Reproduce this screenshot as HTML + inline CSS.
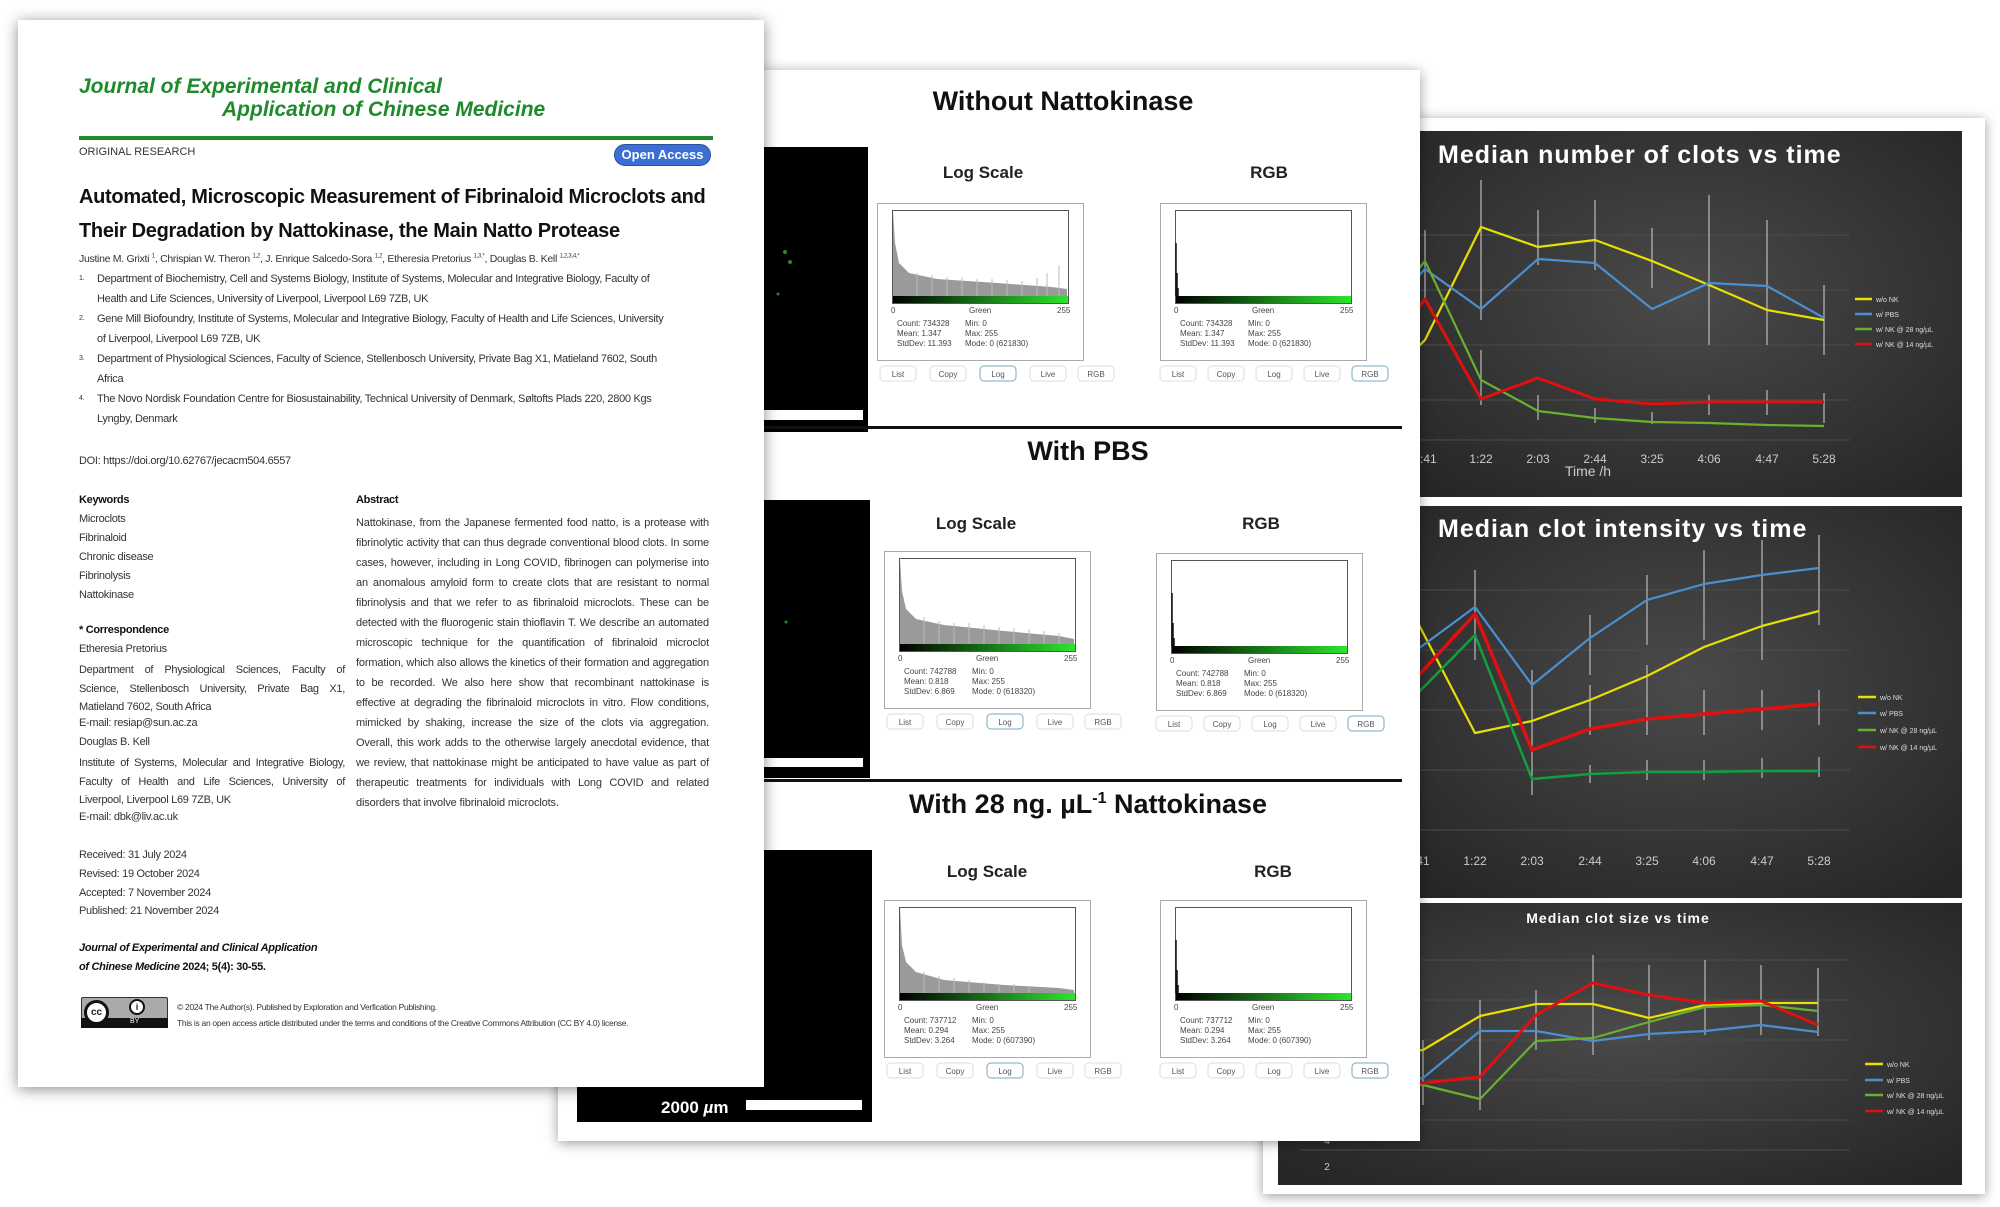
<!DOCTYPE html>
<html><head><meta charset="utf-8"><style>
*{margin:0;padding:0;box-sizing:border-box}
body{width:2000px;height:1207px;background:#fff;position:relative;overflow:hidden;font-family:"Liberation Sans",sans-serif;color:#222}
.a{position:absolute;white-space:nowrap}
#paper{position:absolute;left:18px;top:20px;width:746px;height:1067px;background:#fff;box-shadow:0 2px 14px rgba(0,0,0,.45);z-index:3}
#mid{position:absolute;left:558px;top:70px;width:862px;height:1071px;background:#fff;box-shadow:0 2px 12px rgba(0,0,0,.4);z-index:2}
.sm{font-size:11px;letter-spacing:-.3px;color:#333}
.j{text-align:justify;white-space:normal}
.ttl{font-weight:bold;font-size:27px;color:#111;transform:translateX(-50%)}
.lb{font-weight:bold;font-size:17px;transform:translateX(-50%)}
</style></head><body>

<svg style="position:absolute;left:0;top:0;z-index:1" width="2000" height="1207" viewBox="0 0 2000 1207">
<defs>
<radialGradient id="dg" cx="50%" cy="45%" r="70%"><stop offset="0" stop-color="#4a4a4a"/><stop offset="1" stop-color="#262626"/></radialGradient>
</defs>
<rect x="1263" y="118" width="722" height="1076" fill="#fff" style="filter:drop-shadow(0 2px 6px rgba(0,0,0,.4))"/>
<rect x="1263" y="118" width="722" height="1076" fill="#fff"/>
<rect x="1410" y="131" width="552" height="366" fill="url(#dg)"/>
<rect x="1410" y="506" width="552" height="392" fill="url(#dg)"/>
<rect x="1278" y="903" width="684" height="282" fill="url(#dg)"/>
<g stroke="#4c4c4c" stroke-width="1">
<line x1="1410" y1="235" x2="1850" y2="235"/><line x1="1410" y1="290" x2="1850" y2="290"/><line x1="1410" y1="345" x2="1850" y2="345"/><line x1="1410" y1="400" x2="1850" y2="400"/><line x1="1410" y1="440" x2="1850" y2="440"/>
<line x1="1410" y1="590" x2="1850" y2="590"/><line x1="1410" y1="650" x2="1850" y2="650"/><line x1="1410" y1="710" x2="1850" y2="710"/><line x1="1410" y1="770" x2="1850" y2="770"/><line x1="1410" y1="830" x2="1850" y2="830"/>
<line x1="1300" y1="960" x2="1850" y2="960"/><line x1="1300" y1="1000" x2="1850" y2="1000"/><line x1="1300" y1="1040" x2="1850" y2="1040"/><line x1="1300" y1="1080" x2="1850" y2="1080"/><line x1="1300" y1="1120" x2="1850" y2="1120"/><line x1="1300" y1="1150" x2="1850" y2="1150"/>
</g>
<g font-family="Liberation Sans,sans-serif" fill="#fff">
<text x="1438" y="163" font-size="25" font-weight="bold" letter-spacing="1">Median number of clots vs time</text>
<text x="1438" y="537" font-size="25" font-weight="bold" letter-spacing="1">Median clot intensity vs time</text>
<text x="1618" y="923" font-size="14" font-weight="bold" text-anchor="middle" letter-spacing="1">Median clot size vs time</text>
</g>
<g font-family="Liberation Sans,sans-serif" fill="#ccc" font-size="12" text-anchor="middle">
<text x="1425" y="463">0:41</text><text x="1481" y="463">1:22</text><text x="1538" y="463">2:03</text><text x="1595" y="463">2:44</text><text x="1652" y="463">3:25</text><text x="1709" y="463">4:06</text><text x="1767" y="463">4:47</text><text x="1824" y="463">5:28</text>
<text x="1588" y="476" font-size="14">Time  /h</text>
<text x="1418" y="865">0:41</text><text x="1475" y="865">1:22</text><text x="1532" y="865">2:03</text><text x="1590" y="865">2:44</text><text x="1647" y="865">3:25</text><text x="1704" y="865">4:06</text><text x="1762" y="865">4:47</text><text x="1819" y="865">5:28</text>
<text x="1327" y="1144" font-size="10">4</text><text x="1327" y="1170" font-size="10">2</text>
</g>
<g stroke="#bbb" stroke-width="1.2">
<path d="M1425 230v70M1481 180v140M1538 210v55M1595 200v70M1652 228v60M1709 195v150M1767 220v125M1824 285v70M1481 350v55M1538 395v25M1595 408v15M1652 412v12M1709 395v20M1767 390v25M1824 393v30"/>
<path d="M1475 570v90M1532 670v100M1590 615v60M1647 575v70M1704 550v90M1762 540v120M1819 535v90M1532 745v50M1590 685v50M1647 665v70M1704 690v45M1762 690v40M1819 690v35M1590 765v18M1647 760v20M1704 760v20M1762 758v20M1819 757v20"/>
<path d="M1423 1040v65M1480 1000v110M1536 990v60M1593 955v100M1649 965v75M1705 960v75M1761 965v70M1818 968v68"/>
</g>
<g fill="none" stroke-width="2.2" stroke-linejoin="round">
<polyline stroke="#e8e000" points="1410,355 1425,340 1481,227 1538,247 1595,240 1652,261 1709,285 1767,310 1824,320"/>
<polyline stroke="#4a90d0" points="1410,285 1425,269 1481,309 1538,259 1595,263 1652,309 1709,283 1767,286 1824,318"/>
<polyline stroke="#6ab030" points="1410,280 1425,261 1481,380 1538,411 1595,418 1652,422 1709,423 1767,425 1824,426"/>
<polyline stroke="#e01010" stroke-width="3" points="1410,320 1425,299 1481,399 1538,378 1595,399 1652,404 1709,402 1767,402 1824,402"/>
<polyline stroke="#e8e000" points="1410,612 1418,623 1475,733 1532,721 1590,700 1647,676 1704,647 1762,626 1819,611"/>
<polyline stroke="#4a90d0" points="1410,652 1418,649 1475,607 1532,685 1590,638 1647,600 1704,584 1762,575 1819,568"/>
<polyline stroke="#e01010" stroke-width="3.5" points="1410,680 1418,676 1475,614 1532,750 1590,729 1647,719 1704,714 1762,709 1819,704"/>
<polyline stroke="#10a040" stroke-width="2.5" points="1410,698 1418,693 1475,635 1532,779 1590,774 1647,772 1704,772 1762,771 1819,771"/>
<polyline stroke="#e8e000" points="1300,1062 1423,1050 1480,1016 1536,1004 1593,1004 1649,1018 1705,1005 1761,1003 1818,1003"/>
<polyline stroke="#4a90d0" points="1300,1090 1423,1078 1480,1031 1536,1031 1593,1041 1649,1034 1705,1031 1761,1025 1818,1032"/>
<polyline stroke="#6ab030" points="1300,1078 1423,1085 1480,1099 1536,1041 1593,1038 1649,1022 1705,1007 1761,1005 1818,1011"/>
<polyline stroke="#e01010" stroke-width="3" points="1300,1088 1423,1083 1480,1077 1536,1015 1593,983 1649,995 1705,1003 1761,1001 1818,1025"/>
</g>
<g font-family="Liberation Sans,sans-serif" font-size="7" fill="#ddd" stroke-width="2.5">
<line x1="1855" y1="299" x2="1872" y2="299" stroke="#e8e000"/><text x="1876" y="302">w/o NK</text>
<line x1="1855" y1="314" x2="1872" y2="314" stroke="#4a90d0"/><text x="1876" y="317">w/ PBS</text>
<line x1="1855" y1="329" x2="1872" y2="329" stroke="#6ab030"/><text x="1876" y="332">w/ NK @ 28 ng/µL</text>
<line x1="1855" y1="344" x2="1872" y2="344" stroke="#e01010"/><text x="1876" y="347">w/ NK @ 14 ng/µL</text>
<line x1="1858" y1="697" x2="1876" y2="697" stroke="#e8e000"/><text x="1880" y="700">w/o NK</text>
<line x1="1858" y1="713" x2="1876" y2="713" stroke="#4a90d0"/><text x="1880" y="716">w/ PBS</text>
<line x1="1858" y1="730" x2="1876" y2="730" stroke="#6ab030"/><text x="1880" y="733">w/ NK @ 28 ng/µL</text>
<line x1="1858" y1="747" x2="1876" y2="747" stroke="#e01010"/><text x="1880" y="750">w/ NK @ 14 ng/µL</text>
<line x1="1865" y1="1064" x2="1883" y2="1064" stroke="#e8e000"/><text x="1887" y="1067">w/o NK</text>
<line x1="1865" y1="1080" x2="1883" y2="1080" stroke="#4a90d0"/><text x="1887" y="1083">w/ PBS</text>
<line x1="1865" y1="1095" x2="1883" y2="1095" stroke="#6ab030"/><text x="1887" y="1098">w/ NK @ 28 ng/µL</text>
<line x1="1865" y1="1111" x2="1883" y2="1111" stroke="#e01010"/><text x="1887" y="1114">w/ NK @ 14 ng/µL</text>
</g>
</svg>

<div id="mid">
<div class="a" style="left:140px;top:77px;width:170px;height:285px;background:#000"></div>
<div class="a" style="left:150px;top:340px;width:155px;height:10px;background:#fff"></div>
<div class="a" style="left:140px;top:430px;width:172px;height:278px;background:#000"></div>
<div class="a" style="left:150px;top:688px;width:155px;height:9px;background:#fff"></div>
<div class="a" style="left:19px;top:780px;width:295px;height:272px;background:#000"></div>
<div class="a" style="left:188px;top:1030px;width:116px;height:10px;background:#fff"></div>
<div class="a" style="left:103px;top:1028px;color:#fff;font-weight:bold;font-size:17px">2000 <i>µ</i>m</div>
<div class="a" style="left:-10px;top:356px;width:854px;height:3px;background:#111"></div>
<div class="a" style="left:-10px;top:709px;width:854px;height:3px;background:#111"></div>
<div class="a ttl" style="left:505px;top:16px">Without Nattokinase</div>
<div class="a ttl" style="left:530px;top:366px">With PBS</div>
<div class="a ttl" style="left:530px;top:719px">With 28 ng. µL<sup style="font-size:16px">-1</sup> Nattokinase</div>
<div class="a lb" style="left:425px;top:93px">Log Scale</div>
<div class="a lb" style="left:711px;top:93px">RGB</div>
<div class="a lb" style="left:418px;top:444px">Log Scale</div>
<div class="a lb" style="left:703px;top:444px">RGB</div>
<div class="a lb" style="left:429px;top:792px">Log Scale</div>
<div class="a lb" style="left:715px;top:792px">RGB</div>
</div>

<svg style="position:absolute;left:0;top:0;z-index:2" width="2000" height="1207" viewBox="0 0 2000 1207" font-family="Liberation Sans,sans-serif">
<defs>
<linearGradient id="gb"><stop offset="0" stop-color="#000"/><stop offset="1" stop-color="#2ee52e"/></linearGradient>
</defs>
<g fill="#3a3" opacity=".8"><circle cx="785" cy="252" r="2"/><circle cx="790" cy="262" r="2"/><circle cx="778" cy="294" r="1.5"/><circle cx="786" cy="622" r="1.5"/></g>
<g transform="translate(877,203)">
<rect x="0.5" y="0.5" width="206" height="157" fill="#fff" stroke="#aaa"/>
<rect x="15.5" y="7.5" width="176" height="93" fill="#fff" stroke="#555"/>
<path d="M16 8 L18 40 L22 60 L32 70 L60 76 L120 80 L175 84 L190 86 L190 93 L16 93Z" fill="#9a9a9a"/>
<path d="M40 93V70M55 93V72M70 93V74M85 93V74M100 93V76M115 93V76M130 93V77M145 93V78M160 93V75M170 93V70M182 93V62" stroke="#bbb"/>
<rect x="16" y="93" width="175" height="7" fill="url(#gb)"/>
<g font-size="8" fill="#444"><text x="14" y="110">0</text><text x="92" y="110">Green</text><text x="180" y="110">255</text>
<text x="20" y="123">Count: 734328</text><text x="20" y="133">Mean: 1.347</text><text x="20" y="143">StdDev: 11.393</text>
<text x="88" y="123">Min: 0</text><text x="88" y="133">Max: 255</text><text x="88" y="143">Mode: 0 (621830)</text></g>
<g fill="#fff" stroke="#ddd" font-size="8"><rect x="3" y="163" width="36" height="15" rx="4"/><rect x="53" y="163" width="36" height="15" rx="4"/><rect x="103" y="163" width="36" height="15" rx="4" stroke="#7ab"/><rect x="153" y="163" width="36" height="15" rx="4"/><rect x="201" y="163" width="36" height="15" rx="4"/></g>
<g font-size="8" fill="#555" text-anchor="middle"><text x="21" y="174">List</text><text x="71" y="174">Copy</text><text x="121" y="174">Log</text><text x="171" y="174">Live</text><text x="219" y="174">RGB</text></g>
</g>
<g transform="translate(1160,203)">
<rect x="0.5" y="0.5" width="206" height="157" fill="#fff" stroke="#aaa"/>
<rect x="15.5" y="7.5" width="176" height="93" fill="#fff" stroke="#555"/>
<path d="M16 40V93M17 70V93M18 85V93" stroke="#111" stroke-width="1.5"/>
<rect x="16" y="93" width="175" height="7" fill="url(#gb)"/>
<g font-size="8" fill="#444"><text x="14" y="110">0</text><text x="92" y="110">Green</text><text x="180" y="110">255</text>
<text x="20" y="123">Count: 734328</text><text x="20" y="133">Mean: 1.347</text><text x="20" y="143">StdDev: 11.393</text>
<text x="88" y="123">Min: 0</text><text x="88" y="133">Max: 255</text><text x="88" y="143">Mode: 0 (621830)</text></g>
<g fill="#fff" stroke="#ddd"><rect x="0" y="163" width="36" height="15" rx="4"/><rect x="48" y="163" width="36" height="15" rx="4"/><rect x="96" y="163" width="36" height="15" rx="4"/><rect x="144" y="163" width="36" height="15" rx="4"/><rect x="192" y="163" width="36" height="15" rx="4" stroke="#7ab"/></g>
<g font-size="8" fill="#555" text-anchor="middle"><text x="18" y="174">List</text><text x="66" y="174">Copy</text><text x="114" y="174">Log</text><text x="162" y="174">Live</text><text x="210" y="174">RGB</text></g>
</g>
<g transform="translate(884,551)">
<rect x="0.5" y="0.5" width="206" height="157" fill="#fff" stroke="#aaa"/>
<rect x="15.5" y="7.5" width="176" height="93" fill="#fff" stroke="#555"/>
<path d="M16 8 L18 40 L22 58 L32 68 L60 74 L120 80 L175 85 L190 88 L190 93 L16 93Z" fill="#9a9a9a"/>
<path d="M40 93V66M55 93V70M70 93V72M85 93V72M100 93V74M115 93V76M130 93V77M145 93V78M160 93V80M175 93V82" stroke="#bbb"/>
<rect x="16" y="93" width="175" height="7" fill="url(#gb)"/>
<g font-size="8" fill="#444"><text x="14" y="110">0</text><text x="92" y="110">Green</text><text x="180" y="110">255</text>
<text x="20" y="123">Count: 742788</text><text x="20" y="133">Mean: 0.818</text><text x="20" y="143">StdDev: 6.869</text>
<text x="88" y="123">Min: 0</text><text x="88" y="133">Max: 255</text><text x="88" y="143">Mode: 0 (618320)</text></g>
<g fill="#fff" stroke="#ddd"><rect x="3" y="163" width="36" height="15" rx="4"/><rect x="53" y="163" width="36" height="15" rx="4"/><rect x="103" y="163" width="36" height="15" rx="4" stroke="#7ab"/><rect x="153" y="163" width="36" height="15" rx="4"/><rect x="201" y="163" width="36" height="15" rx="4"/></g>
<g font-size="8" fill="#555" text-anchor="middle"><text x="21" y="174">List</text><text x="71" y="174">Copy</text><text x="121" y="174">Log</text><text x="171" y="174">Live</text><text x="219" y="174">RGB</text></g>
</g>
<g transform="translate(1156,553)">
<rect x="0.5" y="0.5" width="206" height="157" fill="#fff" stroke="#aaa"/>
<rect x="15.5" y="7.5" width="176" height="93" fill="#fff" stroke="#555"/>
<path d="M16 40V93M17 70V93M18 85V93" stroke="#111" stroke-width="1.5"/>
<rect x="16" y="93" width="175" height="7" fill="url(#gb)"/>
<g font-size="8" fill="#444"><text x="14" y="110">0</text><text x="92" y="110">Green</text><text x="180" y="110">255</text>
<text x="20" y="123">Count: 742788</text><text x="20" y="133">Mean: 0.818</text><text x="20" y="143">StdDev: 6.869</text>
<text x="88" y="123">Min: 0</text><text x="88" y="133">Max: 255</text><text x="88" y="143">Mode: 0 (618320)</text></g>
<g fill="#fff" stroke="#ddd"><rect x="0" y="163" width="36" height="15" rx="4"/><rect x="48" y="163" width="36" height="15" rx="4"/><rect x="96" y="163" width="36" height="15" rx="4"/><rect x="144" y="163" width="36" height="15" rx="4"/><rect x="192" y="163" width="36" height="15" rx="4" stroke="#7ab"/></g>
<g font-size="8" fill="#555" text-anchor="middle"><text x="18" y="174">List</text><text x="66" y="174">Copy</text><text x="114" y="174">Log</text><text x="162" y="174">Live</text><text x="210" y="174">RGB</text></g>
</g>
<g transform="translate(884,900)">
<rect x="0.5" y="0.5" width="206" height="157" fill="#fff" stroke="#aaa"/>
<rect x="15.5" y="7.5" width="176" height="93" fill="#fff" stroke="#555"/>
<path d="M16 8 L18 45 L22 62 L32 72 L60 80 L120 85 L175 88 L190 90 L190 93 L16 93Z" fill="#9a9a9a"/>
<path d="M40 93V72M55 93V76M70 93V78M85 93V80M100 93V82M115 93V84M130 93V84M145 93V86" stroke="#bbb"/>
<rect x="16" y="93" width="175" height="7" fill="url(#gb)"/>
<g font-size="8" fill="#444"><text x="14" y="110">0</text><text x="92" y="110">Green</text><text x="180" y="110">255</text>
<text x="20" y="123">Count: 737712</text><text x="20" y="133">Mean: 0.294</text><text x="20" y="143">StdDev: 3.264</text>
<text x="88" y="123">Min: 0</text><text x="88" y="133">Max: 255</text><text x="88" y="143">Mode: 0 (607390)</text></g>
<g fill="#fff" stroke="#ddd"><rect x="3" y="163" width="36" height="15" rx="4"/><rect x="53" y="163" width="36" height="15" rx="4"/><rect x="103" y="163" width="36" height="15" rx="4" stroke="#7ab"/><rect x="153" y="163" width="36" height="15" rx="4"/><rect x="201" y="163" width="36" height="15" rx="4"/></g>
<g font-size="8" fill="#555" text-anchor="middle"><text x="21" y="174">List</text><text x="71" y="174">Copy</text><text x="121" y="174">Log</text><text x="171" y="174">Live</text><text x="219" y="174">RGB</text></g>
</g>
<g transform="translate(1160,900)">
<rect x="0.5" y="0.5" width="206" height="157" fill="#fff" stroke="#aaa"/>
<rect x="15.5" y="7.5" width="176" height="93" fill="#fff" stroke="#555"/>
<path d="M16 40V93M17 70V93M18 85V93" stroke="#111" stroke-width="1.5"/>
<rect x="16" y="93" width="175" height="7" fill="url(#gb)"/>
<g font-size="8" fill="#444"><text x="14" y="110">0</text><text x="92" y="110">Green</text><text x="180" y="110">255</text>
<text x="20" y="123">Count: 737712</text><text x="20" y="133">Mean: 0.294</text><text x="20" y="143">StdDev: 3.264</text>
<text x="88" y="123">Min: 0</text><text x="88" y="133">Max: 255</text><text x="88" y="143">Mode: 0 (607390)</text></g>
<g fill="#fff" stroke="#ddd"><rect x="0" y="163" width="36" height="15" rx="4"/><rect x="48" y="163" width="36" height="15" rx="4"/><rect x="96" y="163" width="36" height="15" rx="4"/><rect x="144" y="163" width="36" height="15" rx="4"/><rect x="192" y="163" width="36" height="15" rx="4" stroke="#7ab"/></g>
<g font-size="8" fill="#555" text-anchor="middle"><text x="18" y="174">List</text><text x="66" y="174">Copy</text><text x="114" y="174">Log</text><text x="162" y="174">Live</text><text x="210" y="174">RGB</text></g>
</g>
</svg>

<div id="paper">
<div class="a" style="left:61px;top:55px;color:#1e8a2a;font-weight:bold;font-style:italic;font-size:21px">Journal of Experimental and Clinical</div>
<div class="a" style="left:204px;top:78px;color:#1e8a2a;font-weight:bold;font-style:italic;font-size:21px">Application of Chinese Medicine</div>
<div class="a" style="left:61px;top:116px;width:634px;height:4px;background:#1e8a2a"></div>
<div class="a" style="left:61px;top:126px;font-size:11px;color:#333">ORIGINAL RESEARCH</div>
<div class="a" style="left:596px;top:124px;width:97px;height:22px;border-radius:11px;background:#3b6fd4;border:1px solid #2a50a0;color:#fff;font-weight:bold;font-size:13px;text-align:center;line-height:20px">Open Access</div>
<div class="a" style="left:61px;top:166px;font-weight:bold;font-size:20px;color:#111;letter-spacing:-.3px">Automated, Microscopic Measurement of Fibrinaloid Microclots and</div>
<div class="a" style="left:61px;top:200px;font-weight:bold;font-size:20px;color:#111;letter-spacing:-.3px">Their Degradation by Nattokinase, the Main Natto Protease</div>
<div class="a sm" style="left:61px;top:233px;font-size:10.5px">Justine M. Grixti <sup style="font-size:6px">1</sup>, Chrispian W. Theron <sup style="font-size:6px">1,2</sup>, J. Enrique Salcedo-Sora <sup style="font-size:6px">1,2</sup>, Etheresia Pretorius <sup style="font-size:6px">1,3,*</sup>, Douglas B. Kell <sup style="font-size:6px">1,2,3,4,*</sup></div>
<div class="a sm" style="left:61px;top:255px;font-size:7px">1.</div>
<div class="a sm" style="left:79px;top:253px">Department of Biochemistry, Cell and Systems Biology, Institute of Systems, Molecular and Integrative Biology, Faculty of</div>
<div class="a sm" style="left:79px;top:273px">Health and Life Sciences, University of Liverpool, Liverpool L69 7ZB, UK</div>
<div class="a sm" style="left:61px;top:295px;font-size:7px">2.</div>
<div class="a sm" style="left:79px;top:293px">Gene Mill Biofoundry, Institute of Systems, Molecular and Integrative Biology, Faculty of Health and Life Sciences, University</div>
<div class="a sm" style="left:79px;top:313px">of Liverpool, Liverpool L69 7ZB, UK</div>
<div class="a sm" style="left:61px;top:335px;font-size:7px">3.</div>
<div class="a sm" style="left:79px;top:333px">Department of Physiological Sciences, Faculty of Science, Stellenbosch University, Private Bag X1, Matieland 7602, South</div>
<div class="a sm" style="left:79px;top:353px">Africa</div>
<div class="a sm" style="left:61px;top:375px;font-size:7px">4.</div>
<div class="a sm" style="left:79px;top:373px">The Novo Nordisk Foundation Centre for Biosustainability, Technical University of Denmark, Søltofts Plads 220, 2800 Kgs</div>
<div class="a sm" style="left:79px;top:393px">Lyngby, Denmark</div>
<div class="a sm" style="left:61px;top:435px">DOI: https://doi.org/10.62767/jecacm504.6557</div>
<div class="a sm" style="left:61px;top:474px;font-weight:bold;color:#111">Keywords</div>
<div class="a sm" style="left:61px;top:493px">Microclots</div>
<div class="a sm" style="left:61px;top:512px">Fibrinaloid</div>
<div class="a sm" style="left:61px;top:531px">Chronic disease</div>
<div class="a sm" style="left:61px;top:550px">Fibrinolysis</div>
<div class="a sm" style="left:61px;top:569px">Nattokinase</div>
<div class="a sm" style="left:61px;top:604px;font-weight:bold;color:#111">* Correspondence</div>
<div class="a sm" style="left:61px;top:623px">Etheresia Pretorius</div>
<div class="a sm j" style="left:61px;top:641px;width:266px;line-height:18.7px">Department of Physiological Sciences, Faculty of Science, Stellenbosch University, Private Bag X1, Matieland 7602, South Africa</div>
<div class="a sm" style="left:61px;top:697px">E-mail: resiap@sun.ac.za</div>
<div class="a sm" style="left:61px;top:716px">Douglas B. Kell</div>
<div class="a sm j" style="left:61px;top:734px;width:266px;line-height:18.7px">Institute of Systems, Molecular and Integrative Biology, Faculty of Health and Life Sciences, University of Liverpool, Liverpool L69 7ZB, UK</div>
<div class="a sm" style="left:61px;top:791px">E-mail: dbk@liv.ac.uk</div>
<div class="a sm" style="left:61px;top:829px">Received: 31 July 2024</div>
<div class="a sm" style="left:61px;top:848px">Revised: 19 October 2024</div>
<div class="a sm" style="left:61px;top:867px">Accepted: 7 November 2024</div>
<div class="a sm" style="left:61px;top:885px">Published: 21 November 2024</div>
<div class="a sm" style="left:61px;top:922px;font-weight:bold;font-style:italic;color:#111">Journal of Experimental and Clinical Application</div>
<div class="a sm" style="left:61px;top:941px;font-weight:bold;color:#111"><i>of Chinese Medicine</i> 2024; 5(4): 30-55.</div>
<div class="a sm" style="left:338px;top:474px;font-weight:bold;color:#111">Abstract</div>
<div class="a sm" style="left:338px;top:493px;width:353px;white-space:normal;text-align:justify;line-height:20px;font-size:11px;letter-spacing:-.15px">Nattokinase, from the Japanese fermented food natto, is a protease with fibrinolytic activity that can thus degrade conventional blood clots. In some cases, however, including in Long COVID, fibrinogen can polymerise into an anomalous amyloid form to create clots that are resistant to normal fibrinolysis and that we refer to as fibrinaloid microclots. These can be detected with the fluorogenic stain thioflavin T. We describe an automated microscopic technique for the quantification of fibrinaloid microclot formation, which also allows the kinetics of their formation and aggregation to be recorded. We also here show that recombinant nattokinase is effective at degrading the fibrinaloid microclots in vitro. Flow conditions, mimicked by shaking, increase the size of the clots via aggregation. Overall, this work adds to the otherwise largely anecdotal evidence, that we review, that nattokinase might be anticipated to have value as part of therapeutic treatments for individuals with Long COVID and related disorders that involve fibrinaloid microclots.</div>
<div class="a" style="left:63px;top:977px;width:87px;height:31px;background:#aaa;border:1px solid #333;border-radius:2px"></div>
<div class="a" style="left:63px;top:998px;width:87px;height:10px;background:#111"></div>
<div class="a" style="left:66px;top:980px;width:25px;height:25px;border-radius:50%;background:#fff;border:3px solid #111;font-size:10px;font-weight:bold;text-align:center;line-height:19px">cc</div>
<div class="a" style="left:111px;top:979px;width:16px;height:16px;border-radius:50%;background:#fff;border:2px solid #111;font-size:9px;font-weight:bold;text-align:center;line-height:12px">i</div>
<div class="a" style="left:112px;top:998px;color:#fff;font-size:7px">BY</div>
<div class="a sm" style="left:159px;top:982px;font-size:8.5px">© 2024 The Author(s). Published by Exploration and Verfication Publishing.</div>
<div class="a sm" style="left:159px;top:998px;font-size:8.5px">This is an open access article distributed under the terms and conditions of the Creative Commons Attribution (CC BY 4.0) license.</div>
</div>
</body></html>
